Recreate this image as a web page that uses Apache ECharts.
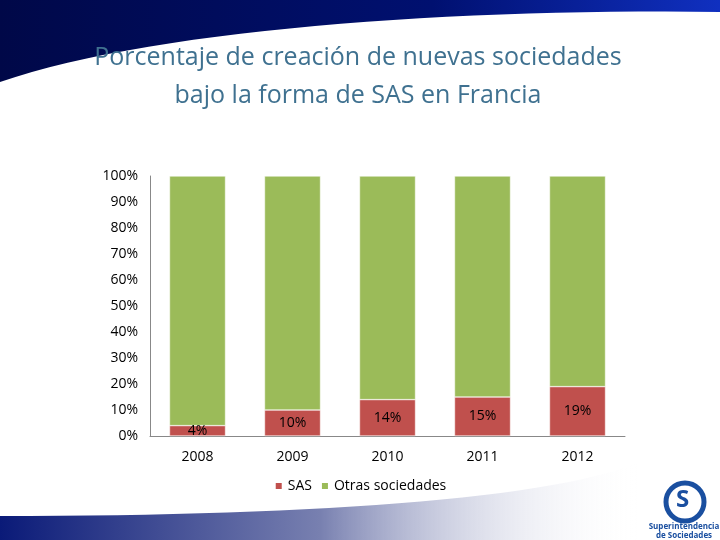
<!DOCTYPE html>
<html>
<head>
<meta charset="utf-8">
<script src="https://cdn.jsdelivr.net/npm/echarts@6/dist/echarts.min.js"></script>
<style>html,body{margin:0;padding:0;background:#fff}#c{width:720px;height:540px}</style>
</head>
<body>
<div id="c"></div>
<script>
const years = ['2008', '2009', '2010', '2011', '2012']
const sas = [4, 10, 14, 15, 19]
const otras = [96, 90, 86, 85, 81]

// sample a cubic curve into points for the decorative swooshes
function curve(p0, p1, p2, p3) {
  const pts = []
  for (let i = 0; i <= 30; i++) {
    const t = i / 30, u = 1 - t
    pts.push([
      u * u * u * p0[0] + 3 * u * u * t * p1[0] + 3 * u * t * t * p2[0] + t * t * t * p3[0],
      u * u * u * p0[1] + 3 * u * u * t * p1[1] + 3 * u * t * t * p2[1] + t * t * t * p3[1]
    ])
  }
  return pts
}
const topShape = [[0, 0], [720, 0]].concat(curve([720, 12], [450, 8], [150, 30], [0, 82]))
const bottomShape = [[0, 540], [0, 516]].concat(curve([0, 516], [300, 516], [550, 500], [640, 462])).concat([[640, 540]])

const chart = echarts.init(document.getElementById('c'))
const font = 'Open Sans'
chart.setOption({
  animation: false,
  title: {
    text: 'Porcentaje de creación de nuevas sociedades\nbajo la forma de SAS en Francia',
    left: 353, top: 34, textAlign: 'center',
    textStyle: { fontFamily: font, fontWeight: 'normal', fontSize: 25, color: '#3f7190', lineHeight: 38 }
  },
  graphic: [
    { type: 'polygon', z: -1, shape: { points: topShape },
      style: { fill: new echarts.graphic.LinearGradient(0, 0, 1, 0, [{ offset: 0, color: '#000848' }, { offset: 0.6, color: '#001070' }, { offset: 1, color: '#1030c0' }]) } },
    { type: 'polygon', z: -1, shape: { points: bottomShape },
      style: { fill: new echarts.graphic.LinearGradient(0, 0, 1, 0, [{ offset: 0, color: '#0a1a78' }, { offset: 0.5, color: '#7880b0' }, { offset: 1, color: 'rgba(255,255,255,0)' }]) } },
    { type: 'circle', shape: { cx: 685, cy: 502, r: 19 }, style: { fill: '#fff', stroke: '#1a4fa0', lineWidth: 5 } },
    { type: 'text', left: 676, top: 488, style: { text: 'S', fontSize: 24, fontWeight: 'bold', fill: '#1a4fa0', fontFamily: font } },
    { type: 'text', x: 684, y: 522, style: { text: 'Superintendencia\nde Sociedades', align: 'center', fontSize: 8, fill: '#1a4fa0', fontFamily: font, fontWeight: 'bold', lineHeight: 9 } }
  ],
  legend: {
    bottom: 42, left: 'center', itemWidth: 8, itemHeight: 8, itemGap: 8,
    icon: 'rect',
    textStyle: { fontFamily: font, fontSize: 14, color: '#000' },
    data: ['SAS', 'Otras sociedades']
  },
  grid: { left: 150, right: 95, top: 176, bottom: 104 },
  xAxis: {
    type: 'category', data: years,
    axisLine: { lineStyle: { color: '#888' } },
    axisTick: { show: false },
    axisLabel: { fontFamily: font, fontSize: 14, color: '#000', margin: 14 }
  },
  yAxis: {
    type: 'value', min: 0, max: 100, interval: 10,
    axisLine: { show: true, lineStyle: { color: '#888' } },
    axisTick: { show: false },
    splitLine: { show: false },
    axisLabel: { fontFamily: font, fontSize: 14, color: '#000', margin: 12, formatter: '{value}%' }
  },
  series: [
    { name: 'SAS', type: 'bar', stack: 't', data: sas, barWidth: 56,
      itemStyle: { color: '#c0504d', borderColor: '#fff', borderWidth: 0.5 },
      label: { show: true, position: 'inside', formatter: '{c}%', fontFamily: font, fontSize: 14, color: '#000' } },
    { name: 'Otras sociedades', type: 'bar', stack: 't', data: otras,
      itemStyle: { color: '#9bbb59', borderColor: '#fff', borderWidth: 0.5 } }
  ]
})
</script>
</body>
</html>
